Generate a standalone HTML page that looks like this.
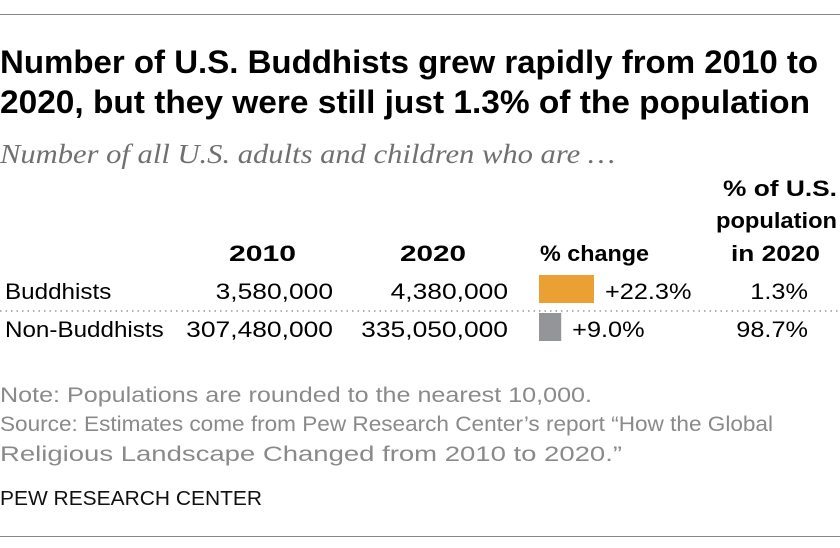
<!DOCTYPE html>
<html><head><meta charset="utf-8"><style>
html,body{margin:0;padding:0;background:#fff;}
svg{display:block;font-family:"Liberation Sans",sans-serif;}
</style></head><body>
<svg id="chart" width="840" height="548" viewBox="0 0 840 548">
<line x1="0" y1="14.5" x2="840" y2="14.5" stroke="#888" stroke-width="1"/>
<text x="0" y="73" font-size="32" font-weight="bold" fill="#000" textLength="818" lengthAdjust="spacingAndGlyphs">Number of U.S. Buddhists grew rapidly from 2010 to</text>
<text x="0" y="113" font-size="32" font-weight="bold" fill="#000" textLength="810" lengthAdjust="spacingAndGlyphs">2020, but they were still just 1.3% of the population</text>
<text x="0" y="163" font-size="27" font-style="italic" fill="#707070" font-family="Liberation Serif, serif" textLength="615" lengthAdjust="spacingAndGlyphs">Number of all U.S. adults and children who are …</text>
<g font-size="22" font-weight="bold" fill="#000">
<text x="229" y="261" textLength="67" lengthAdjust="spacingAndGlyphs">2010</text>
<text x="400" y="261" textLength="66" lengthAdjust="spacingAndGlyphs">2020</text>
<text x="540" y="261" textLength="109" lengthAdjust="spacingAndGlyphs">% change</text>
<text x="723" y="196" textLength="114" lengthAdjust="spacingAndGlyphs">% of U.S.</text>
<text x="716" y="228" textLength="121" lengthAdjust="spacingAndGlyphs">population</text>
<text x="731" y="261" textLength="89" lengthAdjust="spacingAndGlyphs">in 2020</text>
</g>
<line x1="0" y1="311" x2="840" y2="311" stroke="#999" stroke-width="1.5" stroke-dasharray="1.5,4"/>
<g id="rows"></g>
<g font-size="21" fill="#8a8a8a">
<text x="0" y="402" textLength="592" lengthAdjust="spacingAndGlyphs">Note: Populations are rounded to the nearest 10,000.</text>
<text x="0" y="431" textLength="773" lengthAdjust="spacingAndGlyphs">Source: Estimates come from Pew Research Center’s report “How the Global</text>
<text x="0" y="461" textLength="622" lengthAdjust="spacingAndGlyphs">Religious Landscape Changed from 2010 to 2020.”</text>
</g>
<text x="0" y="505" font-size="20" fill="#111" textLength="262" lengthAdjust="spacingAndGlyphs">PEW RESEARCH CENTER</text>
<line x1="0" y1="536.5" x2="840" y2="536.5" stroke="#888" stroke-width="1"/>
</svg>
<script>
const groups = ["Buddhists", "Non-Buddhists"];
const pop2010 = [3580000, 307480000];
const pop2020 = [4380000, 335050000];
const pctChange = [22.3, 9.0];
const share2020 = [1.3, 98.7];
const barColors = ["#eaa033", "#939598"];

const NS = "http://www.w3.org/2000/svg";
const rows = document.getElementById("rows");
const rowY = i => 299 + i * 38;
const barX0 = 539;
const xScale = v => v * (55 / 22.3);
function t(x, y, s, anchor, name, widen) {
  const el = document.createElementNS(NS, "text");
  el.setAttribute("x", x); el.setAttribute("y", y);
  el.setAttribute("font-size", "22"); el.setAttribute("fill", "#000");
  el.setAttribute("text-anchor", anchor);
  el.textContent = s;
  
  
  rows.appendChild(el);
  const w = el.getComputedTextLength();
  el.setAttribute("textLength", (w * widen).toFixed(1));
  el.setAttribute("lengthAdjust", "spacingAndGlyphs");
  return el;
}
groups.forEach((g, i) => {
  const y = rowY(i);
  t(5, y, g, "start", "row-label", 1.1);
  t(333, y, pop2010[i].toLocaleString("en-US"), "end", "value-2010", 1.2);
  t(508, y, pop2020[i].toLocaleString("en-US"), "end", "value-2020", 1.2);
  const w = xScale(pctChange[i]);
  const r = document.createElementNS(NS, "rect");
  r.setAttribute("x", barX0); r.setAttribute("y", y - 24);
  r.setAttribute("width", w); r.setAttribute("height", 28);
  r.setAttribute("fill", barColors[i]);
  
  
  rows.appendChild(r);
  t(barX0 + w + 11, y, "+" + pctChange[i].toFixed(1) + "%", "start", "change-label", 1.15);
  t(808, y, share2020[i].toFixed(1) + "%", "end", "share-2020", 1.15);
});
</script>
</body></html>
